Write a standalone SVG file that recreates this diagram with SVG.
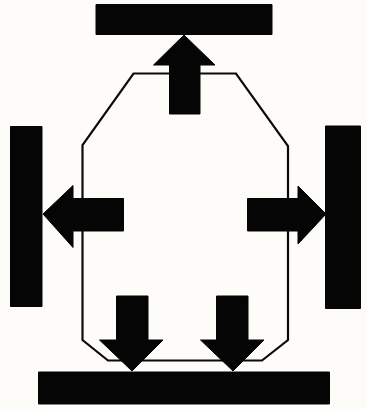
<svg xmlns="http://www.w3.org/2000/svg" width="367" height="409" viewBox="0 0 367 409">
<style>.k{fill:#050505;stroke:#050505;stroke-width:1;stroke-linejoin:round}.o{fill:none;stroke:#0a0a0a;stroke-width:2.2;stroke-linejoin:miter}</style>
<rect width="367" height="409" fill="#fdfcf8"/>
<g id="connectors"><path class="o" d="M133.500 73.500H236L288 146V340L262 360.500H108L82.500 340V145Z"/></g>
<g id="bar-top"><rect class="k" x="96" y="4.500" width="176" height="30"/></g>
<g id="bar-left"><rect class="k" x="10.500" y="126.500" width="31.500" height="180"/></g>
<g id="bar-right"><rect class="k" x="325.500" y="126" width="35" height="182.500"/></g>
<g id="bar-bottom"><rect class="k" x="38.500" y="372" width="291" height="32"/></g>
<g id="arrow-up"><path class="k" d="M184 35L215 65H200V114H169.500V65H153.500Z"/></g>
<g id="arrow-left"><path class="k" d="M43 214L73 185.500V198.500H123.500V231H73V247.500Z"/></g>
<g id="arrow-right"><path class="k" d="M326 214L298 186V198.500H247.500V231H298V244Z"/></g>
<g id="arrow-down-1"><path class="k" d="M132 371L163 340H148V296H116.500V340H99.500Z"/></g>
<g id="arrow-down-2"><path class="k" d="M233 371L264 340H248V296H216.500V340H200.500Z"/></g>
</svg>
